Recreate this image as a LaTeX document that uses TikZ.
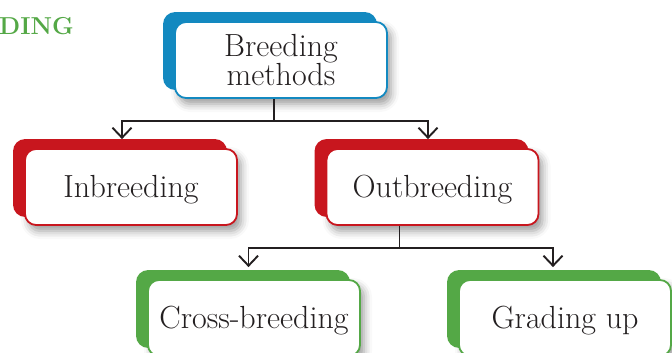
\documentclass[tikz,border=0pt]{standalone}
\usepackage{fontspec}
\usetikzlibrary{arrows.meta,shadows,shadows.blur}
\definecolor{cblue}{HTML}{1389C0}
\definecolor{cred}{HTML}{C8161E}
\definecolor{cgreen}{HTML}{54A846}
\definecolor{cline}{HTML}{231F20}
\begin{document}
\begin{tikzpicture}[x=1pt,y=-1pt,
  boxnode/.style={draw=#1, line width=1.8pt, fill=white, rounded corners=11pt,
    minimum width=212pt, minimum height=76pt, inner sep=0pt, align=center,
    font=\fontsize{32}{29}\selectfont, text=cline,
    blur shadow={shadow xshift=4pt, shadow yshift=-6pt, shadow blur radius=8pt, shadow opacity=40},
    copy shadow={shadow xshift=-11pt, shadow yshift=9pt, fill=#1, draw=#1}},
  oneline/.style={text height=21pt, text depth=0pt},
  conn/.style={draw=cline, line width=1.9pt},
  arr/.style={conn, -{Straight Barb[length=10pt,width=19pt]}}]
\useasboundingbox (0,0) rectangle (672,353);
\node[font=\fontsize{24.5}{24}\selectfont\bfseries, text=cgreen, anchor=west, inner sep=0pt] (head) at (-1,26) {DING};
\node[boxnode=cblue] (top) at (281,60) {Breeding\\methods};
\node[boxnode=cred, oneline] (inb) at (131,187) {Inbreeding};
\node[boxnode=cred, oneline] (outb) at (432.5,187) {Outbreeding};
\node[boxnode=cgreen, oneline] (cross) at (254,318) {Cross-breeding};
\node[boxnode=cgreen, oneline] (grade) at (565,318) {Grading up};
\draw[conn] ([xshift=-7pt]top.south) -- ++(0,22) coordinate (j1);
\draw[arr] (j1) -| ([xshift=-9pt,yshift=9pt]inb.north);
\draw[arr] (j1) -| ([xshift=-4.5pt,yshift=9pt]outb.north);
\draw[conn] ([xshift=-33pt]outb.south) -- ++(0,22) coordinate (j2);
\draw[arr] (j2) -| ([xshift=-5.5pt,yshift=12pt]cross.north);
\draw[arr] (j2) -| ([xshift=-12pt,yshift=12pt]grade.north);
\end{tikzpicture}
\end{document}
